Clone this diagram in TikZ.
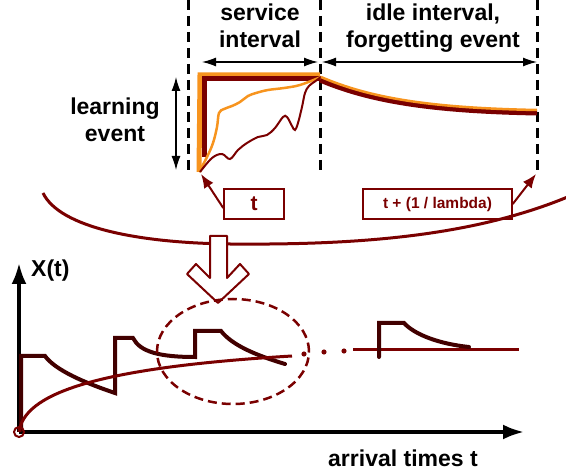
\documentclass[tikz,border=0pt]{standalone}
\usepackage{fontspec}
\setmainfont{Liberation Sans}
\usetikzlibrary{arrows.meta}

\definecolor{brick}{RGB}{122,0,0}
\definecolor{amber}{RGB}{247,148,30}
\definecolor{umber}{RGB}{66,0,0}

\tikzset{
  lbl/.style={font=\fontsize{23}{27}\selectfont\bfseries, align=center, inner sep=0pt},
  divider/.style={line width=3pt, dash pattern=on 10pt off 6pt},
  span/.style={line width=1.3pt, {Latex[length=14pt,width=9pt]}-{Latex[length=14pt,width=9pt]}},
  tag/.style={draw=brick, line width=1.5pt, text=brick, inner sep=0pt, minimum height=30pt},
  pointer/.style={brick, line width=2pt, -{Latex[length=14pt,width=11pt]}},
  axisline/.style={line width=3.5pt, -{Latex[length=21pt,width=15pt]}},
  saw/.style={umber, line width=4pt, line cap=round},
}

\begin{document}
\begin{tikzpicture}[x=1pt,y=-1pt]
    \useasboundingbox (0,0) rectangle (566,473);

    % borders of the two intervals
    \coordinate (b1top) at (188,0);   \coordinate (b1bot) at (188,172);
    \coordinate (b2top) at (320,0);   \coordinate (b2bot) at (320,172);
    \coordinate (b3top) at (537,0);   \coordinate (b3bot) at (537,172);
    \draw[divider] (b1top) -- (b1bot);
    \draw[divider] (b2top) -- (b2bot);
    \draw[divider] (b3top) -- (b3bot);

    \node[lbl, anchor=north] at (260,4)  (service)  {service\\interval};
    \node[lbl, anchor=north] at (433,4)  (idle)     {idle interval,\\forgetting event};
    \node[lbl, anchor=north] at (115,98) (learning) {learning\\event};

    \coordinate (s0) at (202,62);
    \coordinate (s1) at (318,62);
    \coordinate (s2) at (322,62);
    \coordinate (s3) at (537,62);
    \coordinate (l0) at (176,77);
    \coordinate (l1) at (176,170);
    \draw[span] (s0) -- (s1);
    \draw[span] (s2) -- (s3);
    \draw[span] (l0) -- (l1);

    % learning step and forgetting decay
    \draw[amber, line width=5pt] (199,172) -- (200,75) -- (320,75);
    \draw[brick, line width=5pt] (204.5,157) -- (204.5,78.5) -- (320,78.5);
    \draw[amber, line width=2.5pt] plot[smooth, tension=0.6] coordinates {
        (199,172) (207,157) (213,143) (217,127) (219,113) (224,109) (232,106)
        (240,102) (248,96) (256,93) (268,90) (284,88) (300,85) (321,77)};
    \draw[brick, line width=2pt] plot[smooth, tension=0.6] coordinates {
        (200,172) (212,158) (222,154) (230,159) (238,150) (247,143) (258,137)
        (267,135) (275,128) (283,117) (287,117) (292,126) (295,130) (298,123)
        (302,107) (305,93) (309,86) (317,80) (321,77)};
    \draw[brick, line width=5pt] (320,80) .. controls (370,101) and (430,111) .. (537,113);
    \draw[amber, line width=2.5pt] (321,77) .. controls (370,98) and (430,108) .. (537,110);

    % time stamps
    \node[tag, minimum width=60pt, font=\fontsize{21}{24}\selectfont\bfseries]
        at (254,204) (tbox) {t};
    \node[tag, minimum width=149pt, font=\fontsize{15.5}{18}\selectfont\bfseries]
        at (437.5,204) (tlambda) {t + (1 / lambda)};
    \coordinate (tstart) at (201,174);
    \coordinate (tend) at (536,174);
    \draw[pointer] ([yshift=-4pt]tbox.west) -- (tstart);
    \draw[pointer] (tlambda.east) -- (tend);

    % bracket over the detail
    \draw[brick, line width=3pt] (43,193) .. controls (60,228) and (140,243) .. (230,244)
        .. controls (350,245) and (470,238) .. (570,196);
    \draw[brick, line width=2pt, fill=white, line join=round]
        (210,236) -- (210,278) -- (196,264) -- (187,274) -- (218,303)
        -- (249,274) -- (240,264) -- (227,278) -- (227,236) -- cycle;

    % axes
    \coordinate (O) at (19,432);
    \coordinate (Ytip) at (19,263);
    \coordinate (Xtip) at (524,432);
    \draw[axisline] (O) -- (Ytip);
    \draw[axisline] (O) -- (Xtip);
    \node[lbl, anchor=base west] at (31,277) (Xt) {X(t)};
    \node[lbl, anchor=base west] at (328,467) (arrival) {arrival times t};

    % state of the process
    \draw[saw] (21,430) -- (21,356) -- (45,356)
        .. controls (55,370) and (85,383) .. (115,393) -- (115,338) -- (133,338)
        .. controls (140,352) and (160,357) .. (195,357) -- (195,331) -- (221,331)
        .. controls (232,345) and (255,355) .. (285,364);
    \draw[brick, line width=3pt] (O) .. controls (24,395) and (90,368) .. (292,356);
    \draw[brick, line width=2pt] (O) circle[radius=5pt];
    \fill[brick] (304,354) circle[radius=2.6pt];
    \fill[brick] (324,352) circle[radius=2.6pt];
    \fill[brick] (344,351) circle[radius=2.6pt];
    \draw[brick, line width=3pt] (353,350) -- (519,350);
    \draw[saw] (379,357) -- (379,323) -- (404,323)
        .. controls (415,335) and (440,344) .. (469,347);

    % zoomed region
    \draw[brick, line width=2.5pt, dash pattern=on 9pt off 5pt]
        (233,351.5) ellipse[x radius=76pt, y radius=52.5pt];
\end{tikzpicture}
\end{document}
